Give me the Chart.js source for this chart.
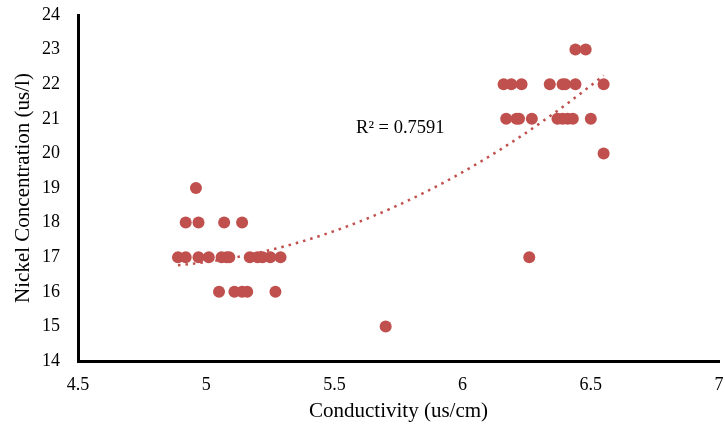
<!DOCTYPE html>
<html>
<head>
<meta charset="utf-8">
<script src="https://cdn.jsdelivr.net/npm/chart.js@4/dist/chart.umd.min.js"></script>
<style>
  html, body { margin: 0; padding: 0; background: #fff; }
  #wrap { width: 725px; height: 428px; }
</style>
</head>
<body>
<div id="wrap"><canvas id="scatterChart" width="725" height="428"></canvas></div>
<script>
// conductivity (us/cm) readings and nickel concentration (us/l)
const conductivity = [
  4.89, 4.92, 4.97, 5.01, 5.06, 5.08, 5.09, 5.17, 5.20, 5.22, 5.25, 5.29, 6.26,
  4.92, 4.97, 5.07, 5.14,
  4.96,
  5.05, 5.11, 5.14, 5.16, 5.27,
  5.70,
  6.17, 6.21, 6.22, 6.27, 6.37, 6.39, 6.41, 6.43, 6.50,
  6.16, 6.19, 6.23, 6.34, 6.39, 6.40, 6.44, 6.55,
  6.44, 6.48,
  6.55
];
const nickel = [
  17, 17, 17, 17, 17, 17, 17, 17, 17, 17, 17, 17, 17,
  18, 18, 18, 18,
  19,
  16, 16, 16, 16, 16,
  15,
  21, 21, 21, 21, 21, 21, 21, 21, 21,
  22, 22, 22, 22, 22, 22, 22, 22,
  23, 23,
  20
];
// poly (order 2) trendline: a + b*x + c*x^2
const trendCoef = [51.99, -15.046, 1.604];
const rSquaredLabel = 'R² = 0.7591';
const labelPos = { x: 5.757, y: 20.73 };
const xTitle = 'Conductivity (us/cm)';
const yTitle = 'Nickel Concentration (us/l)';

const pointColor = '#C0504D';
const serif = "'Liberation Serif', 'Times New Roman', serif";

const xMin = Math.min(...conductivity), xMax = Math.max(...conductivity);
const trend = [];
for (let i = 0; i <= 60; i++) {
  const x = xMin + (xMax - xMin) * i / 60;
  trend.push({ x: x, y: trendCoef[0] + trendCoef[1] * x + trendCoef[2] * x * x });
}

const points = conductivity.map((c, i) => ({ x: c, y: nickel[i] }));

const labelPlugin = {
  id: 'rsqLabel',
  afterDatasetsDraw(chart) {
    const ctx = chart.ctx;
    const px = chart.scales.x.getPixelForValue(labelPos.x);
    const py = chart.scales.y.getPixelForValue(labelPos.y);
    ctx.save();
    ctx.font = "18.5px " + serif;
    ctx.fillStyle = '#000';
    ctx.textAlign = 'center';
    ctx.textBaseline = 'middle';
    ctx.fillText(rSquaredLabel, px, py);
    ctx.restore();
  }
};

new Chart('scatterChart', {
  type: 'scatter',
  data: {
    datasets: [
      {
        data: trend,
        type: 'line',
        showLine: true,
        borderColor: pointColor,
        borderWidth: 2.5,
        borderDash: [2.5, 5],
        pointRadius: 0,
        fill: false,
        order: 2
      },
      {
        data: points,
        backgroundColor: pointColor,
        borderColor: pointColor,
        pointRadius: 6,
        pointHoverRadius: 6,
        borderWidth: 0,
        order: 1
      }
    ]
  },
  options: {
    responsive: false,
    animation: false,
    layout: { padding: { top: 15, right: 3, left: 0, bottom: 0 } },
    plugins: { legend: { display: false }, tooltip: { enabled: false } },
    scales: {
      x: {
        type: 'linear',
        min: 4.5, max: 7,
        ticks: { stepSize: 0.5, color: '#000', font: { family: serif, size: 18 }, padding: 13,
          callback: v => String(v) },
        grid: { display: false, drawTicks: false },
        border: { color: '#000', width: 3 },
        title: { display: true, text: xTitle, color: '#000', font: { family: serif, size: 21 }, padding: { top: 2, bottom: 4 } },
        afterFit: s => { s.height = 67; s.paddingRight = 0; s.paddingLeft = 0; }
      },
      y: {
        min: 14, max: 24,
        ticks: { stepSize: 1, color: '#000', font: { family: serif, size: 18 }, padding: 18 },
        grid: { display: false, drawTicks: false },
        border: { color: '#000', width: 3 },
        title: { display: true, text: yTitle, color: '#000', font: { family: serif, size: 21 }, padding: { top: 11, bottom: 2 } },
        afterFit: s => { s.width = 78; s.paddingTop = 0; s.paddingBottom = 0; }
      }
    }
  },
  plugins: [labelPlugin]
});
</script>
</body>
</html>
